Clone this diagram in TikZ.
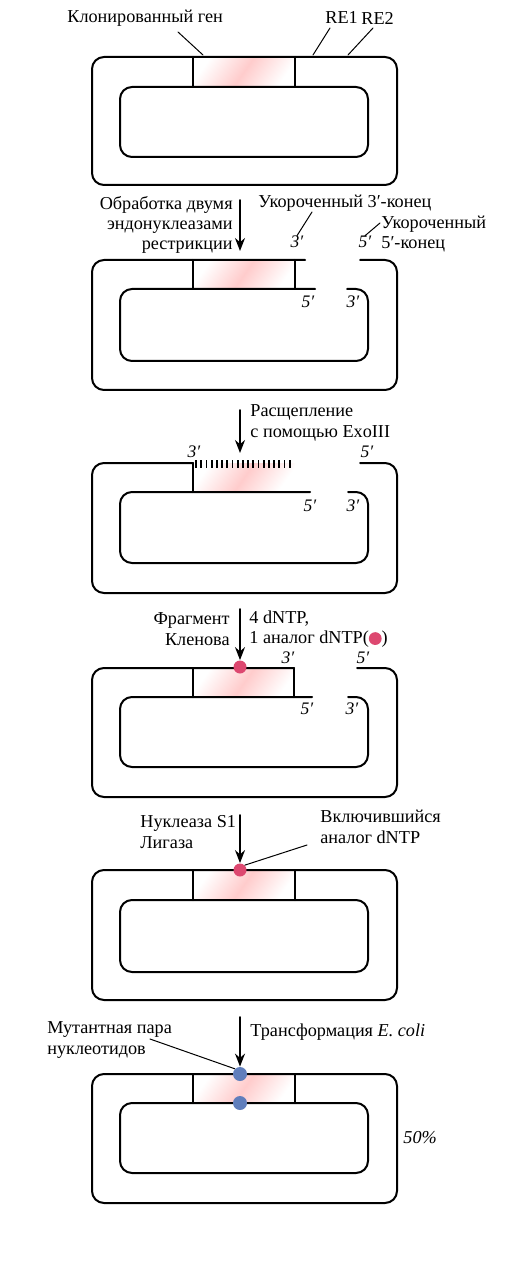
\documentclass[tikz,border=0pt]{standalone}
\usepackage{fontspec}
\setmainfont{Liberation Serif}
\usetikzlibrary{arrows.meta}
\definecolor{dotpink}{RGB}{221,72,112}
\definecolor{dotblue}{RGB}{96,126,188}
\tikzset{
  strand/.style={line width=1pt, rounded corners=6pt},
  rung/.style={line width=1pt},
  lbl/.style={font=\fontsize{9.1}{10.2}\selectfont, inner sep=0pt},
  endlbl/.style={font=\fontsize{8.8}{10.2}\selectfont\itshape, inner sep=0pt},
  flow/.style={-{Stealth[length=6.5pt,width=5pt]}, line width=0.8pt},
  leader/.style={line width=0.5pt},
  pinkdot/.style={circle, fill=dotpink, inner sep=0pt, minimum size=6.5pt},
  bluedot/.style={circle, fill=dotblue, inner sep=0pt, minimum size=7pt},
  genefill/.style={left color=white, right color=white, middle color=red!20, shading angle=55}
}
\begin{document}
\begin{tikzpicture}[line join=round, line cap=round, x=0.5pt, y=-0.5pt]
\path[use as bounding box] (0,0) rectangle (513,1272);
\foreach \t in {57,260,463,668,870,1074}{
  \begin{scope}
    \clip (193,\t) rectangle (295,\t+29);
    \shade[genefill] (193,\t) rectangle (295,\t+29);
  \end{scope}
}
% 1
\draw[strand] (92,57) rectangle (397,185);
\draw[strand] (120,87) rectangle (368,157);
\draw[rung] (193,57) -- (193,87) (295,57) -- (295,87);
\node[lbl, anchor=west] (gene) at (67,18) {Клонированный ген};
\node[lbl, anchor=west] (re1) at (325,18) {RE1};
\node[lbl, anchor=west] (re2) at (361,18) {RE2};
\coordinate (geneA) at (178,32);
\coordinate (geneB) at (203,55);
\coordinate (re1A) at (330,28);
\coordinate (re1B) at (313,55);
\coordinate (re2A) at (373,28);
\coordinate (re2B) at (348,55);
\draw[leader] (geneA) -- (geneB);
\draw[leader] (re1A) -- (re1B);
\draw[leader] (re2A) -- (re2B);
% 2
\draw[strand] (305,260) -- (92,260) -- (92,390) -- (397,390) -- (397,260) -- (360,260);
\draw[strand] (315,289) -- (120,289) -- (120,361) -- (368,361) -- (368,289) -- (347,289);
\draw[rung] (193,260) -- (193,289) (295,260) -- (295,289);
\node[lbl, anchor=east, align=right] (cut) at (233,225) {Обработка двумя\\эндонуклеазами\\рестрикции};
\coordinate (a1s) at (240,200);
\coordinate (a1e) at (240,251);
\draw[flow] (a1s) -- (a1e);
\node[lbl, anchor=west] (short3) at (258,203) {Укороченный 3′-конец};
\node[lbl, anchor=west, align=left] (short5) at (381,234) {Укороченный\\5′-конец};
\node[endlbl] (e2a) at (297,242) {3′};
\node[endlbl] (e2b) at (365,242) {5′};
\node[endlbl] (e2c) at (308,302) {5′};
\node[endlbl] (e2d) at (353,302) {3′};
\coordinate (s3A) at (312,212);
\coordinate (s5A) at (380,223);
\draw[leader] (s3A) -- (e2a.north);
\draw[leader] (s5A) -- (e2b.north);
% 3
\draw[strand] (193,463) -- (92,463) -- (92,593) -- (397,593) -- (397,463) -- (360,463);
\draw[strand] (310,492) -- (120,492) -- (120,563) -- (368,563) -- (368,492) -- (348,492);
\draw[rung] (193,463) -- (193,492);
\foreach \i in {0,...,18}
  \draw[line width=0.9pt, line cap=butt] ({196+5.2*\i},460) -- ++(0,8);
\node[lbl, anchor=west, align=left] (exo) at (250,423) {Расщепление\\с помощью ExoIII};
\coordinate (a2s) at (240,410);
\coordinate (a2e) at (240,453);
\draw[flow] (a2s) -- (a2e);
\node[endlbl] (e3a) at (194,452) {3′};
\node[endlbl] (e3b) at (367,452) {5′};
\node[endlbl] (e3c) at (310,506) {5′};
\node[endlbl] (e3d) at (353,506) {3′};
% 4
\draw[strand] (294,668) -- (92,668) -- (92,797) -- (397,797) -- (397,668) -- (357,668);
\draw[strand] (312,697) -- (120,697) -- (120,767) -- (368,767) -- (368,697) -- (348,697);
\draw[rung] (193,668) -- (193,697) (294,668) -- (294,697);
\node[lbl, anchor=east, align=right] (klen) at (230,629) {Фрагмент\\Кленова};
\node[lbl, anchor=west, align=left] (dntp) at (249,629) {4 dNTP,\\1 аналог dNTP(\tikz[baseline=-0.6ex]\fill[dotpink] (0,0) circle (3.2pt);)};
\node[pinkdot] (d4) at (240,667) {};
\coordinate (a3s) at (240,609);
\draw[flow] (a3s) -- (d4.north);
\node[endlbl] (e4a) at (288,658) {3′};
\node[endlbl] (e4b) at (363,658) {5′};
\node[endlbl] (e4c) at (307,709) {5′};
\node[endlbl] (e4d) at (352,709) {3′};
% 5
\draw[strand] (92,870) rectangle (397,1000);
\draw[strand] (120,900) rectangle (368,972);
\draw[rung] (193,870) -- (193,900) (295,870) -- (295,900);
\node[lbl, anchor=west, align=left] (s1) at (140,832) {Нуклеаза S1\\Лигаза};
\node[lbl, anchor=west, align=left] (incl) at (320,827) {Включившийся\\аналог dNTP};
\node[pinkdot] (d5) at (240,870) {};
\coordinate (a4s) at (240,815);
\draw[flow] (a4s) -- (d5.north);
\coordinate (inclA) at (307,845);
\draw[leader] (inclA) -- (d5.north east);
% 6
\draw[strand] (92,1074) rectangle (397,1203);
\draw[strand] (120,1103) rectangle (368,1173);
\draw[rung] (193,1074) -- (193,1103) (295,1074) -- (295,1103);
\node[bluedot] (d6a) at (240,1074) {};
\node[bluedot] (d6b) at (240,1103) {};
\coordinate (a5s) at (240,1017);
\draw[flow] (a5s) -- (d6a.north);
\node[lbl, anchor=west] (transf) at (250,1032) {Трансформация \textit{E. coli}};
\node[lbl, anchor=west, align=left] (mut) at (47,1040) {Мутантная пара\\нуклеотидов};
\coordinate (mutA) at (150,1039);
\draw[leader] (mutA) -- (d6a.north west);
\node[lbl, anchor=west] (pct) at (403,1138) {\textit{50\%}};
\end{tikzpicture}
\end{document}
